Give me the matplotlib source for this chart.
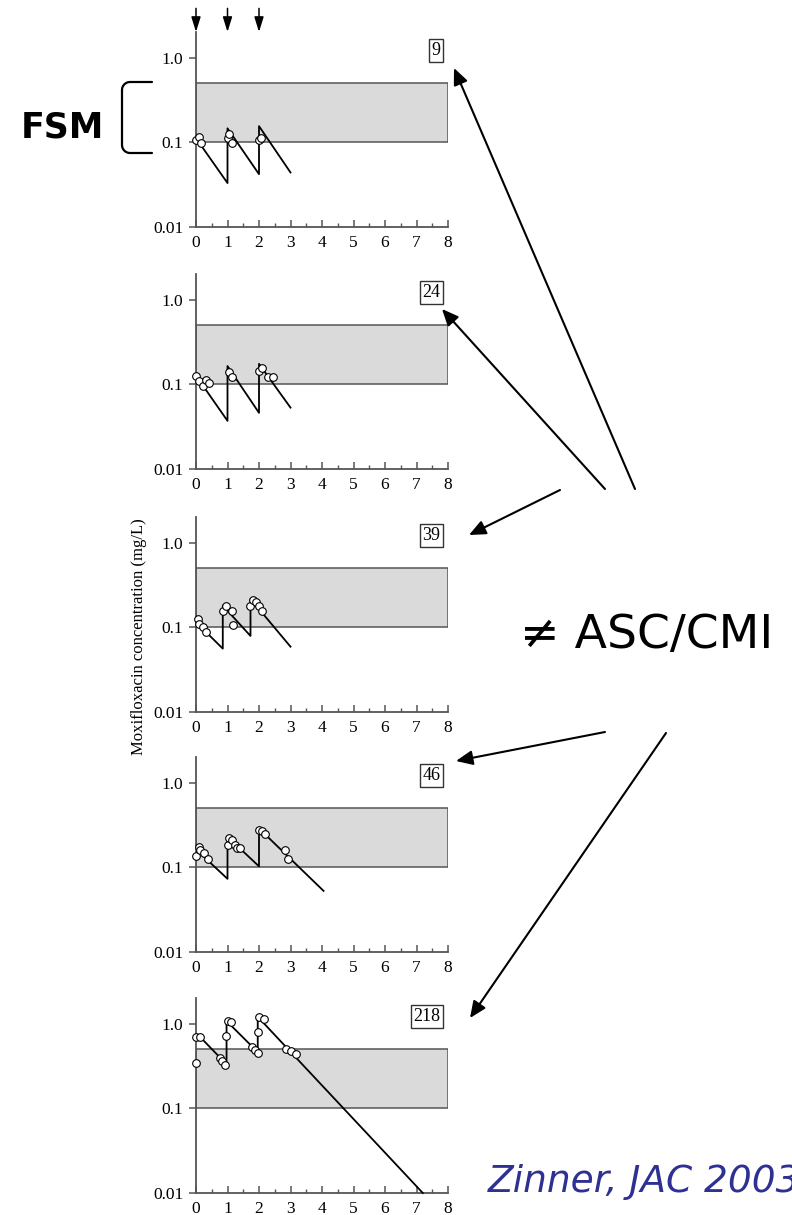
import numpy as np
import matplotlib.pyplot as plt
from matplotlib.patches import Rectangle
from matplotlib.ticker import FixedLocator, MultipleLocator

# panel ids (boxed labels)
panel_ids = ["9", "24", "39", "46", "218"]

# fitted concentration curves (time in days, mg/L)
curve_x = [
    [0.05, 1, 1, 2, 2, 3],
    [0.15, 1, 1, 2, 2, 3],
    [0.05, 0.85, 0.85, 1.73, 1.73, 3.0],
    [0.1, 1, 1, 2, 2, 4.05],
    [0.12, 0.97, 0.97, 1.96, 1.96, 7.2],
]
curve_y = [
    [0.105, 0.033, 0.146, 0.042, 0.155, 0.044],
    [0.105, 0.037, 0.164, 0.046, 0.174, 0.053],
    [0.11, 0.056, 0.18, 0.079, 0.216, 0.059],
    [0.15, 0.073, 0.229, 0.1025, 0.287, 0.0526],
    [0.70, 0.33, 1.07, 0.46, 1.2, 0.01],
]

# measured concentrations
obs_x = [
    [0.0, 0.1, 0.17, 1.03, 1.05, 1.15, 2.0, 2.05],
    [0.0, 0.1, 0.21, 0.31, 0.41, 1.04, 1.14, 2.01, 2.1, 2.28, 2.44],
    [0.05, 0.1, 0.23, 0.33, 0.87, 0.95, 1.13, 1.18, 1.71, 1.82, 1.92, 2.0, 2.08],
    [0.0, 0.08, 0.14, 0.24, 0.39, 1.0, 1.05, 1.13, 1.25, 1.31, 1.41, 2.0, 2.08,
     2.18, 2.82, 2.92],
    [0.0, 0.0, 0.12, 0.75, 0.82, 0.93, 0.96, 1.0, 1.11, 1.78, 1.86, 1.96, 1.97,
     2.01, 2.15, 2.86, 3.0, 3.16],
]
obs_y = [
    [0.105, 0.115, 0.097, 0.113, 0.125, 0.097, 0.105, 0.113],
    [0.124, 0.11, 0.095, 0.113, 0.103, 0.138, 0.122, 0.144, 0.155, 0.122, 0.122],
    [0.126, 0.108, 0.1, 0.087, 0.155, 0.18, 0.155, 0.105, 0.18, 0.21, 0.2, 0.18, 0.155],
    [0.137, 0.175, 0.16, 0.147, 0.125, 0.184, 0.224, 0.208, 0.184, 0.168, 0.168,
     0.275, 0.268, 0.245, 0.16, 0.125],
    [0.346, 0.686, 0.70, 0.39, 0.36, 0.32, 0.72, 1.07, 1.03, 0.53, 0.49, 0.445,
     0.80, 1.2, 1.12, 0.50, 0.47, 0.435],
]

# mutant selection window
fsm_low, fsm_high = 0.1, 0.5
dose_times = [0, 1, 2]
y_ticks = [0.01, 0.1, 1.0]
y_ticklabels = ["0.01", "0.1", "1.0"]

serif = "Liberation Serif"
W, H = 792, 1215
fig = plt.figure(figsize=(W / 100, H / 100), dpi=100)

bottoms = [227, 469, 712, 952, 1193]
axes = []
for i, b in enumerate(bottoms):
    ax = fig.add_axes([196 / W, 1 - b / H, 252 / W, 195 / H])
    axes.append(ax)
    ax.set_yscale("log")
    ax.set_xlim(0, 8)
    ax.set_ylim(0.01, 2.0)
    for s in ["top", "right"]:
        ax.spines[s].set_visible(False)
    for s in ["left", "bottom"]:
        ax.spines[s].set_color("#555555")
        ax.spines[s].set_linewidth(1.3)
    ax.add_patch(Rectangle((0, fsm_low), 8, fsm_high - fsm_low, facecolor="#dadada",
                           edgecolor="#555555", lw=1.1, zorder=1))
    ax.plot(curve_x[i], curve_y[i], color="black", lw=1.3, zorder=3, clip_on=False)
    ax.plot(obs_x[i], obs_y[i], "o", mfc="white", mec="black", ms=5.5, mew=0.8,
            zorder=4, clip_on=False)
    ax.xaxis.set_major_locator(MultipleLocator(1))
    ax.xaxis.set_minor_locator(MultipleLocator(0.5))
    ax.yaxis.set_major_locator(FixedLocator(y_ticks))
    ax.yaxis.set_minor_locator(FixedLocator([]))
    ax.set_yticklabels(y_ticklabels)
    ax.tick_params(axis="x", which="major", direction="in", length=5, width=1.1,
                   color="#555555", pad=6, labelsize=12.5)
    ax.tick_params(axis="x", which="minor", direction="in", length=3, width=1.0,
                   color="#555555")
    ax.tick_params(axis="y", which="major", direction="out", length=5, width=1.1,
                   color="#555555", pad=4, labelsize=12.5)
    for lab in ax.get_xticklabels() + ax.get_yticklabels():
        lab.set_fontfamily(serif)
    ax.text(0.97, 0.905, panel_ids[i], transform=ax.transAxes, ha="right",
            va="center", fontsize=13, family=serif,
            bbox=dict(boxstyle="square,pad=0.15", fc="white", ec="#333333", lw=1))

# dosing arrows above first panel
for t in dose_times:
    axes[0].annotate("", xy=(t, 2.0), xytext=(t, 3.8), xycoords="data",
                     annotation_clip=False,
                     arrowprops=dict(arrowstyle="-|>,head_length=0.45,head_width=0.14",
                                     color="black", lw=1.1, shrinkA=0, shrinkB=0,
                                     mutation_scale=20))

fig.text(139 / W, 1 - 637 / H, "Moxifloxacin concentration (mg/L)", rotation=90,
         ha="center", va="center", fontsize=12, family=serif)

# overlay in pixel coordinates for the slide annotations
ov = fig.add_axes([0, 0, 1, 1], zorder=10)
ov.set_xlim(0, W)
ov.set_ylim(H, 0)
ov.axis("off")
ov.patch.set_alpha(0)

ov.text(62, 127, "FSM", ha="center", va="center", fontsize=25, fontweight="bold",
        family="DejaVu Sans")
# bracket with rounded corners
r = 8
a1 = np.linspace(np.pi / 2, np.pi, 12)
a2 = np.linspace(np.pi, 3 * np.pi / 2, 12)
bx = np.concatenate([[152], 122 + r + r * np.cos(a1), 122 + r + r * np.cos(a2), [152]])
by = np.concatenate([[82], 82 + r - r * np.sin(a1), 153 - r - r * np.sin(a2), [153]])
ov.plot(bx, by, color="black", lw=1.6, solid_capstyle="round")

ov.text(647, 636, "\u2260 ASC/CMI", ha="center", va="center", fontsize=34,
        family="DejaVu Sans")
# runs off the right edge, as on the original slide
ov.text(488, 1182, "Zinner, JAC 2003", ha="left", va="center", fontsize=27,
        style="italic", color="#2e3192", family="DejaVu Sans")

arrows = [((635, 489), (454, 68)), ((605, 489), (442, 309)), ((560, 490), (469, 535)),
          ((605, 732), (456, 761)), ((666, 733), (470, 1018))]
for tail, tip in arrows:
    ov.annotate("", xy=tip, xytext=tail,
                arrowprops=dict(arrowstyle="-|>,head_length=0.5,head_width=0.22",
                                color="black", lw=1.5, shrinkA=0, shrinkB=0,
                                mutation_scale=20))

fig.savefig("out.png", dpi=100, facecolor="white")
